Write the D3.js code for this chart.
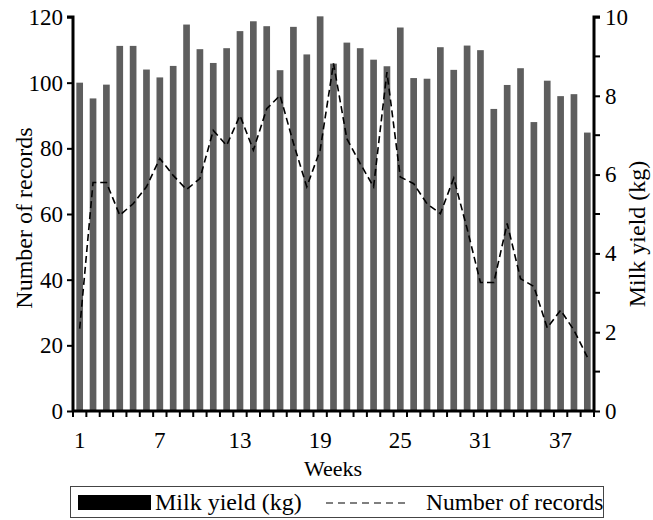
<!DOCTYPE html>
<html>
<head>
<meta charset="utf-8">
<script src="https://cdn.jsdelivr.net/npm/d3@7"></script>
<style>
  body { margin: 0; background: #fff; }
  svg text { font-family: "Liberation Serif", "DejaVu Serif", serif; fill: #000; }
</style>
</head>
<body>
<svg id="chart" width="653" height="520"></svg>
<script>
const weeks = d3.range(1, 40);
// bar heights, read on the left axis
const records = [100, 95.2, 99.4, 111.2, 111.2, 104, 101.6, 105.1, 117.7, 110.2,
  106, 110.5, 115.7, 118.7, 117.2, 103.8, 117, 108.6, 120.2, 105.8,
  112.2, 110.5, 107, 105, 116.8, 101.4, 101.2, 110.8, 103.9, 111.3,
  109.9, 92, 99.3, 104.4, 88, 100.6, 95.9, 96.5, 84.8];
// dashed line, read on the right axis
const milk = [2.09, 5.8, 5.8, 4.97, 5.26, 5.69, 6.41, 5.98, 5.62, 5.9,
  7.12, 6.74, 7.5, 6.62, 7.67, 8.01, 6.8, 5.69, 6.62, 8.82,
  6.91, 6.28, 5.69, 8.6, 5.94, 5.77, 5.26, 5.01, 5.91, 4.63,
  3.26, 3.26, 4.76, 3.36, 3.16, 2.11, 2.56, 2.05, 1.37];
const xLabels = [1, 7, 13, 19, 25, 31, 37];
const leftTicks = [0, 20, 40, 60, 80, 100, 120];
const rightTicks = [0, 2, 4, 6, 8, 10];
const rightMinor = [1, 3, 5, 7, 9];

const svg = d3.select("#chart");
const x0 = 73, x1 = 594, yTop = 17, yBot = 411;
const fs = 23;

const xScale = d3.scaleBand().domain(weeks).range([x0, x1])
  .paddingInner(0.5).paddingOuter(0.25);
const yLeft = d3.scaleLinear().domain([0, 120]).range([yBot, yTop]);
const yRight = d3.scaleLinear().domain([0, 10]).range([yBot, yTop]);
const step = xScale.step();

svg.append("g")
  .selectAll("rect")
  .data(weeks)
  .join("rect")
  .attr("x", (d) => xScale(d))
  .attr("y", (d, i) => yLeft(records[i]))
  .attr("width", xScale.bandwidth())
  .attr("height", (d, i) => yBot - yLeft(records[i]))
  .attr("fill", "#5e5e5e");

const line = d3.line()
  .x((d, i) => xScale(weeks[i]) + xScale.bandwidth() / 2)
  .y((d) => yRight(d));

svg.append("path")
  .datum(milk)
  .attr("d", line)
  .attr("fill", "none")
  .attr("stroke", "#000")
  .attr("stroke-width", 1.6)
  .attr("stroke-dasharray", "7,4");

// left axis
const gl = svg.append("g")
  .attr("transform", `translate(${x0},0)`)
  .call(d3.axisLeft(yLeft).tickValues(leftTicks).tickSize(6).tickPadding(4));
// right axis
const gr = svg.append("g")
  .attr("transform", `translate(${x1},0)`)
  .call(d3.axisRight(yRight).tickValues(rightTicks).tickSize(6).tickPadding(5));
gr.selectAll(".minor")
  .data(rightMinor)
  .join("line")
  .attr("class", "minor")
  .attr("x1", 0).attr("x2", 6)
  .attr("y1", (d) => yRight(d)).attr("y2", (d) => yRight(d))
  .attr("stroke", "#000").attr("stroke-width", 2);

// bottom axis, ticks between bars
const boundaries = weeks.map((w) => xScale(w) - step * 0.25).concat([x1]);
const gb = svg.append("g");
gb.append("line")
  .attr("x1", x0 - 1).attr("x2", x1 + 1)
  .attr("y1", yBot).attr("y2", yBot)
  .attr("stroke", "#000").attr("stroke-width", 3);
gb.selectAll(".tk")
  .data(boundaries)
  .join("line")
  .attr("class", "tk")
  .attr("x1", (d) => d).attr("x2", (d) => d)
  .attr("y1", yBot).attr("y2", yBot + 6)
  .attr("stroke", "#000").attr("stroke-width", 2);
gb.selectAll("text")
  .data(xLabels)
  .join("text")
  .attr("x", (d) => xScale(d) + xScale.bandwidth() / 2)
  .attr("y", 448)
  .attr("text-anchor", "middle")
  .attr("font-size", fs)
  .text((d) => d);

[gl, gr].forEach((g) => {
  g.attr("font-family", null).attr("font-size", fs);
  g.select(".domain").attr("stroke-width", 3);
  g.selectAll(".tick line").attr("stroke-width", 2);
  g.selectAll(".tick text").attr("font-size", fs);
});
gl.select(".domain").attr("d", `M-6,${yTop}H0V${yBot}`);
gr.select(".domain").attr("d", `M6,${yTop}H0V${yBot}`);

// axis titles
svg.append("text")
  .attr("transform", "translate(32,218) rotate(-90)")
  .attr("text-anchor", "middle")
  .attr("font-size", 24)
  .text("Number of records");
svg.append("text")
  .attr("transform", "translate(645,234) rotate(-90)")
  .attr("text-anchor", "middle")
  .attr("font-size", 24)
  .text("Milk yield (kg)");
svg.append("text")
  .attr("x", 333).attr("y", 476)
  .attr("text-anchor", "middle")
  .attr("font-size", 22)
  .text("Weeks");

// legend
const lg = svg.append("g");
lg.append("rect")
  .attr("x", 70.5).attr("y", 486.5).attr("width", 533).attr("height", 31)
  .attr("fill", "#fff").attr("stroke", "#444").attr("stroke-width", 1);
lg.append("rect")
  .attr("x", 78).attr("y", 495).attr("width", 73).attr("height", 15)
  .attr("fill", "#000");
lg.append("text")
  .attr("x", 155).attr("y", 510)
  .attr("font-size", 24)
  .text("Milk yield (kg)");
lg.append("line")
  .attr("x1", 326).attr("x2", 407).attr("y1", 503).attr("y2", 503)
  .attr("stroke", "#000").attr("stroke-width", 1.2)
  .attr("stroke-dasharray", "7,5");
lg.append("text")
  .attr("x", 426).attr("y", 510)
  .attr("font-size", 23.5)
  .text("Number of records");
</script>
</body>
</html>
